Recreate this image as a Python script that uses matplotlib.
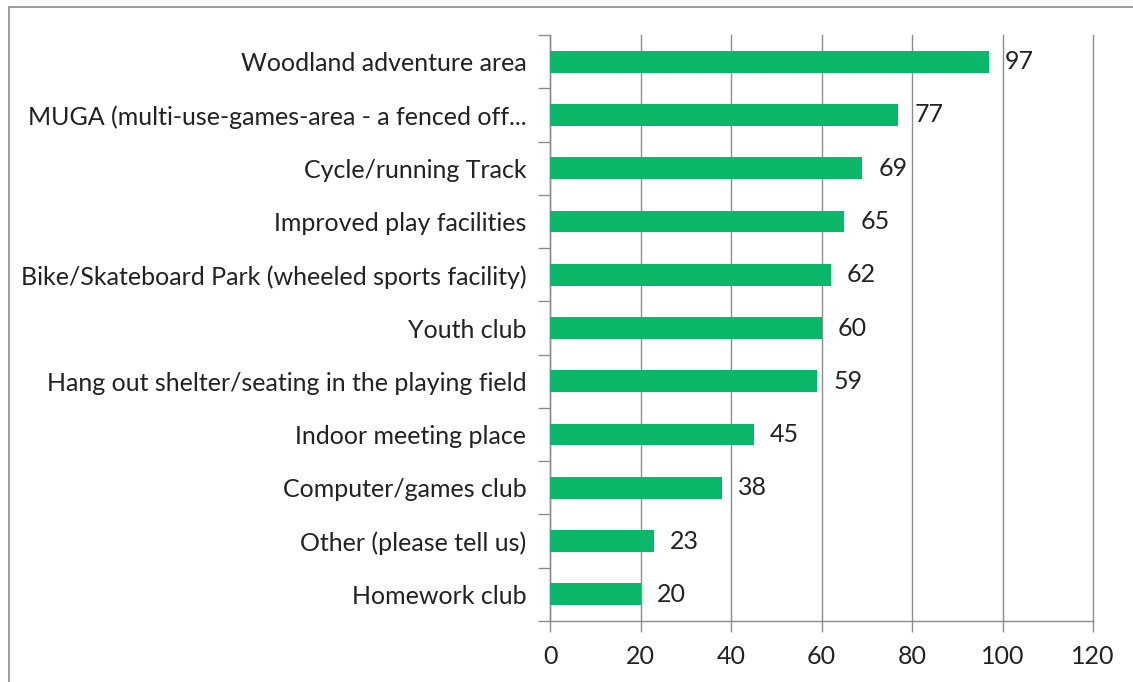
import matplotlib
matplotlib.use("Agg")
import matplotlib.pyplot as plt
from matplotlib.patches import Rectangle

plt.rcParams["font.family"] = ["Lato", "DejaVu Sans"]

categories = [
    "Woodland adventure area",
    "MUGA (multi-use-games-area - a fenced off...",
    "Cycle/running Track",
    "Improved play facilities",
    "Bike/Skateboard Park (wheeled sports facility)",
    "Youth club",
    "Hang out shelter/seating in the playing field",
    "Indoor meeting place",
    "Computer/games club",
    "Other (please tell us)",
    "Homework club",
]
values = [97, 77, 69, 65, 62, 60, 59, 45, 38, 23, 20]
x_ticks = [0, 20, 40, 60, 80, 100, 120]

bar_color = "#0BB86A"
grid_color = "#8C8C8C"
text_color = "#222222"
fs = 18

fig = plt.figure(figsize=(11.33, 6.82), dpi=100)
ax = fig.add_axes([550 / 1133, 61 / 682, 543 / 1133, 586 / 682])

n = len(categories)
ypos = list(range(n))
ax.barh(ypos, values, height=0.41, color=bar_color, zorder=3)
ax.set_ylim(n - 0.5, -0.5)
ax.set_xlim(0, 120)

# value labels to the right of each bar
for y, v in zip(ypos, values):
    ax.text(v + 3.6, y, str(v), va="center", ha="left",
            fontsize=fs, color=text_color)

ax.set_xticks(x_ticks)
ax.set_xticklabels([str(t) for t in x_ticks], fontsize=fs, color=text_color)
ax.tick_params(axis="x", length=8, width=1, color=grid_color, pad=9)
ax.grid(axis="x", color=grid_color, linewidth=1, zorder=0)
for gl in ax.get_xgridlines():
    gl.set_clip_on(False)

# category labels on the left, ticks drawn on category boundaries
ax.set_yticks([i - 0.5 for i in range(n + 1)])
ax.set_yticklabels([])
ax.set_yticks(ypos, minor=True)
ax.set_yticklabels(categories, minor=True, fontsize=fs, color=text_color)
ax.tick_params(axis="y", which="major", length=9, width=1, color=grid_color)
ax.tick_params(axis="y", which="minor", length=0, pad=17)

for side in ("top", "right"):
    ax.spines[side].set_visible(False)
for side in ("left", "bottom"):
    ax.spines[side].set_color(grid_color)
    ax.spines[side].set_linewidth(1)

# outer chart frame
fig.patches.append(Rectangle((9 / 1133, -0.1), 1.2, (675 / 682) + 0.1,
                             transform=fig.transFigure, fill=False,
                             edgecolor="#8C8C8C", linewidth=1.2))

fig.savefig("out.png", dpi=100, facecolor="white")
